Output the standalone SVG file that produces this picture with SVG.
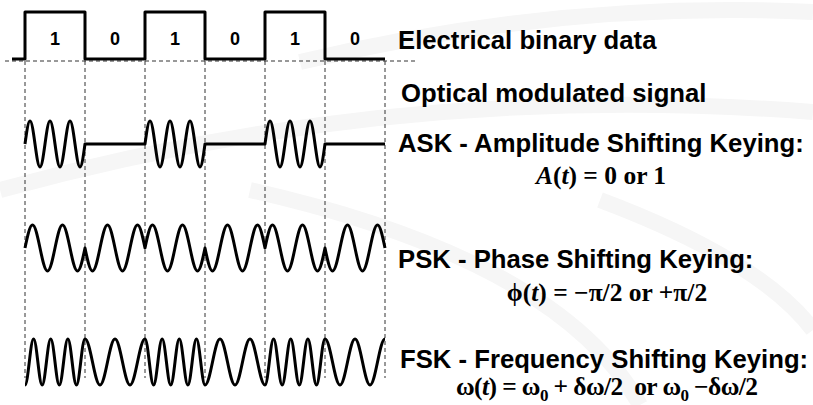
<svg xmlns="http://www.w3.org/2000/svg" width="813" height="405" viewBox="0 0 813 405">
<style>
.bg{fill:none;stroke:#f6f6f6;stroke-width:16}
.grid{fill:none;stroke:#333;stroke-width:1;stroke-dasharray:4 3}
.sig{fill:none;stroke:#000;stroke-width:3;stroke-linejoin:round}
.bit{font-family:"Liberation Sans",Arial,sans-serif;font-weight:bold;font-size:18px;text-anchor:middle;fill:#000}
.lbl{font-family:"Liberation Sans",Arial,sans-serif;font-weight:bold;font-size:25.7px;fill:#000}
.math{font-family:"Liberation Serif","Times New Roman",serif;font-weight:bold;font-size:25.5px;fill:#000;text-anchor:middle;white-space:pre}
.it{font-style:italic}
</style>
<rect width="813" height="405" fill="#fff"/>
<g id="background">
<path class="bg" d="M300,62 Q560,0 813,12"/>
<path class="bg" d="M0,190 Q400,80 813,112"/>
<path class="bg" d="M250,190 Q560,260 640,405"/>
<path class="bg" d="M600,200 Q760,260 813,330"/>
</g>
<g id="connectors">
<path class="grid" d="M5,61 H418"/>
<path class="grid" d="M25,61 V378 M85,61 V378 M145,61 V378 M205,61 V378 M265,61 V378 M325,61 V378 M385,61 V378"/>
</g>
<g id="binary-data">
<path class="sig" d="M12,59 H25 V12 H85 V59 H145 V12 H205 V59 H265 V12 H325 V59 H385"/>
<text class="bit" x="55" y="45">1</text>
<text class="bit" x="115" y="45">0</text>
<text class="bit" x="175" y="45">1</text>
<text class="bit" x="235" y="45">0</text>
<text class="bit" x="295" y="45">1</text>
<text class="bit" x="355" y="45">0</text>
</g>
<g id="ask-signal">
<path class="sig" d="M25,144 c1.63,-11.79 3.19,-23 5,-23 c1.81,0 3.37,11.21 5,23 c1.63,11.79 3.19,23 5,23 c1.81,0 3.37,-11.21 5,-23 c1.63,-11.79 3.19,-23 5,-23 c1.81,0 3.37,11.21 5,23 c1.63,11.79 3.19,23 5,23 c1.81,0 3.37,-11.21 5,-23 c1.63,-11.79 3.19,-23 5,-23 c1.81,0 3.37,11.21 5,23 c1.63,11.79 3.19,23 5,23 c1.81,0 3.37,-11.21 5,-23 H145 c1.63,-11.79 3.19,-23 5,-23 c1.81,0 3.37,11.21 5,23 c1.63,11.79 3.19,23 5,23 c1.81,0 3.37,-11.21 5,-23 c1.63,-11.79 3.19,-23 5,-23 c1.81,0 3.37,11.21 5,23 c1.63,11.79 3.19,23 5,23 c1.81,0 3.37,-11.21 5,-23 c1.63,-11.79 3.19,-23 5,-23 c1.81,0 3.37,11.21 5,23 c1.63,11.79 3.19,23 5,23 c1.81,0 3.37,-11.21 5,-23 H265 c1.63,-11.79 3.19,-23 5,-23 c1.81,0 3.37,11.21 5,23 c1.63,11.79 3.19,23 5,23 c1.81,0 3.37,-11.21 5,-23 c1.63,-11.79 3.19,-23 5,-23 c1.81,0 3.37,11.21 5,23 c1.63,11.79 3.19,23 5,23 c1.81,0 3.37,-11.21 5,-23 c1.63,-11.79 3.19,-23 5,-23 c1.81,0 3.37,11.21 5,23 c1.63,11.79 3.19,23 5,23 c1.81,0 3.37,-11.21 5,-23 H385"/>
</g>
<g id="psk-signal">
<path class="sig" d="M25,248 c2.45,-11.79 4.79,-23 7.5,-23 c2.72,0 5.05,11.21 7.5,23 c2.45,11.79 4.79,23 7.5,23 c2.72,0 5.05,-11.21 7.5,-23 c2.45,-11.79 4.79,-23 7.5,-23 c2.72,0 5.05,11.21 7.5,23 c2.45,11.79 4.79,23 7.5,23 c2.72,0 5.05,-11.21 7.5,-23 c2.45,11.79 4.79,23 7.5,23 c2.72,0 5.05,-11.21 7.5,-23 c2.45,-11.79 4.79,-23 7.5,-23 c2.72,0 5.05,11.21 7.5,23 c2.45,11.79 4.79,23 7.5,23 c2.72,0 5.05,-11.21 7.5,-23 c2.45,-11.79 4.79,-23 7.5,-23 c2.72,0 5.05,11.21 7.5,23 c2.45,-11.79 4.79,-23 7.5,-23 c2.72,0 5.05,11.21 7.5,23 c2.45,11.79 4.79,23 7.5,23 c2.72,0 5.05,-11.21 7.5,-23 c2.45,-11.79 4.79,-23 7.5,-23 c2.72,0 5.05,11.21 7.5,23 c2.45,11.79 4.79,23 7.5,23 c2.72,0 5.05,-11.21 7.5,-23 c2.45,11.79 4.79,23 7.5,23 c2.72,0 5.05,-11.21 7.5,-23 c2.45,-11.79 4.79,-23 7.5,-23 c2.72,0 5.05,11.21 7.5,23 c2.45,11.79 4.79,23 7.5,23 c2.72,0 5.05,-11.21 7.5,-23 c2.45,-11.79 4.79,-23 7.5,-23 c2.72,0 5.05,11.21 7.5,23 c2.45,-11.79 4.79,-23 7.5,-23 c2.72,0 5.05,11.21 7.5,23 c2.45,11.79 4.79,23 7.5,23 c2.72,0 5.05,-11.21 7.5,-23 c2.45,-11.79 4.79,-23 7.5,-23 c2.72,0 5.05,11.21 7.5,23 c2.45,11.79 4.79,23 7.5,23 c2.72,0 5.05,-11.21 7.5,-23 c2.45,11.79 4.79,23 7.5,23 c2.72,0 5.05,-11.21 7.5,-23 c2.45,-11.79 4.79,-23 7.5,-23 c2.72,0 5.05,11.21 7.5,23 c2.45,11.79 4.79,23 7.5,23 c2.72,0 5.05,-11.21 7.5,-23 c2.45,-11.79 4.79,-23 7.5,-23 c2.72,0 5.05,11.21 7.5,23"/>
</g>
<g id="fsk-signal">
<path class="sig" d="M25,385 c1.55,0 2.89,-11.21 4.286,-23 c1.4,-11.79 2.73,-23 4.286,-23 c1.55,0 2.89,11.21 4.286,23 c1.4,11.79 2.73,23 4.286,23 c1.55,0 2.89,-11.21 4.286,-23 c1.4,-11.79 2.73,-23 4.286,-23 c1.55,0 2.89,11.21 4.286,23 c1.4,11.79 2.73,23 4.286,23 c1.55,0 2.89,-11.21 4.286,-23 c1.4,-11.79 2.73,-23 4.286,-23 c1.55,0 2.89,11.21 4.286,23 c1.4,11.79 2.73,23 4.286,23 c1.55,0 2.89,-11.21 4.286,-23 c1.4,-11.79 2.73,-23 4.286,-23 c2.72,0 5.05,11.21 7.5,23 c2.45,11.79 4.79,23 7.5,23 c2.72,0 5.05,-11.21 7.5,-23 c2.45,-11.79 4.79,-23 7.5,-23 c2.72,0 5.05,11.21 7.5,23 c2.45,11.79 4.79,23 7.5,23 c2.72,0 5.05,-11.21 7.5,-23 c2.45,-11.79 4.79,-23 7.5,-23 c1.55,0 2.89,11.21 4.286,23 c1.4,11.79 2.73,23 4.286,23 c1.55,0 2.89,-11.21 4.286,-23 c1.4,-11.79 2.73,-23 4.286,-23 c1.55,0 2.89,11.21 4.286,23 c1.4,11.79 2.73,23 4.286,23 c1.55,0 2.89,-11.21 4.286,-23 c1.4,-11.79 2.73,-23 4.286,-23 c1.55,0 2.89,11.21 4.286,23 c1.4,11.79 2.73,23 4.286,23 c1.55,0 2.89,-11.21 4.286,-23 c1.4,-11.79 2.73,-23 4.286,-23 c1.55,0 2.89,11.21 4.286,23 c1.4,11.79 2.73,23 4.286,23 c2.72,0 5.05,-11.21 7.5,-23 c2.45,-11.79 4.79,-23 7.5,-23 c2.72,0 5.05,11.21 7.5,23 c2.45,11.79 4.79,23 7.5,23 c2.72,0 5.05,-11.21 7.5,-23 c2.45,-11.79 4.79,-23 7.5,-23 c2.72,0 5.05,11.21 7.5,23 c2.45,11.79 4.79,23 7.5,23 c1.55,0 2.89,-11.21 4.286,-23 c1.4,-11.79 2.73,-23 4.286,-23 c1.55,0 2.89,11.21 4.286,23 c1.4,11.79 2.73,23 4.286,23 c1.55,0 2.89,-11.21 4.286,-23 c1.4,-11.79 2.73,-23 4.286,-23 c1.55,0 2.89,11.21 4.286,23 c1.4,11.79 2.73,23 4.286,23 c1.55,0 2.89,-11.21 4.286,-23 c1.4,-11.79 2.73,-23 4.286,-23 c1.55,0 2.89,11.21 4.286,23 c1.4,11.79 2.73,23 4.286,23 c1.55,0 2.89,-11.21 4.286,-23 c1.4,-11.79 2.73,-23 4.286,-23 c2.72,0 5.05,11.21 7.5,23 c2.45,11.79 4.79,23 7.5,23 c2.72,0 5.05,-11.21 7.5,-23 c2.45,-11.79 4.79,-23 7.5,-23 c2.72,0 5.05,11.21 7.5,23 c2.45,11.79 4.79,23 7.5,23 c2.72,0 5.05,-11.21 7.5,-23 c2.45,-11.79 4.79,-23 7.5,-23"/>
</g>
<g id="label-electrical">
<text class="lbl" x="398" y="49">Electrical binary data</text>
</g>
<g id="label-optical">
<text class="lbl" x="401" y="102">Optical modulated signal</text>
</g>
<g id="label-ask">
<text class="lbl" x="398" y="152">ASK - Amplitude Shifting Keying:</text>
<text class="math" x="601" y="184"><tspan class="it">A</tspan>(<tspan class="it">t</tspan>) = 0 or 1</text>
</g>
<g id="label-psk">
<text class="lbl" x="398" y="268">PSK - Phase Shifting Keying:</text>
<text class="math" x="607" y="301">ϕ(<tspan class="it">t</tspan>) = −π/2 or +π/2</text>
</g>
<g id="label-fsk">
<text class="lbl" x="400" y="368">FSK - Frequency Shifting Keying:</text>
<text class="math" x="607" y="395" textLength="302" lengthAdjust="spacing">ω(<tspan class="it">t</tspan>) = ω<tspan dy="6" font-size="17">0</tspan><tspan dy="-6"> + δω/2  or ω</tspan><tspan dy="6" font-size="17">0</tspan><tspan dy="-6"> −δω/2</tspan></text>
</g>
</svg>
